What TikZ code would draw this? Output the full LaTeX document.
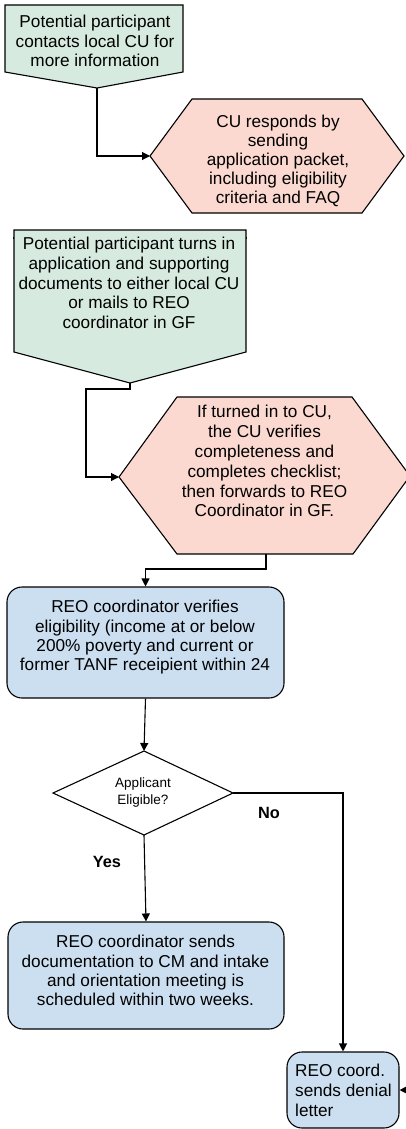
\documentclass[tikz,border=0pt]{standalone}
\usepackage{fontspec}
\setmainfont{Liberation Sans}
\usetikzlibrary{arrows.meta}
\definecolor{boxgreen}{HTML}{D6EADF}
\definecolor{boxpink}{HTML}{FBD9D0}
\definecolor{boxblue}{HTML}{CCDFF1}
\newcommand{\asc}{\rule{0pt}{12.4pt}}
\begin{document}
\begin{tikzpicture}[x=1pt,y=-1pt,
  outl/.style={draw=black, line width=1.1pt, line join=miter},
  conn/.style={draw=black, line width=1.1pt, -{Triangle[length=8pt,width=8pt]}},
  txt/.style={inner sep=0pt, anchor=north, align=center, text=black, font={\fontsize{17.2}{#1}\selectfont}},
  txt/.default=19.2,
  rbox/.style={outl, fill=boxblue, rounded corners=15pt, inner sep=0pt}]
\useasboundingbox (0,0) rectangle (406,1129);
\clip (0,0) rectangle (406,1129);

% Box 1 (pentagon, green)
\coordinate (b1tl) at (5,5);
\coordinate (b1tr) at (183,5);
\coordinate (b1r) at (183,72);
\coordinate (b1tip) at (97,88);
\coordinate (b1l) at (5,72);
\draw[outl, fill=boxgreen] (b1tl) -- (b1tr) -- (b1r) -- (b1tip) -- (b1l) -- cycle;
\node[txt=19.2] (t1) at (95,15.3) {\asc Potential participant\\contacts local CU for\\more information};

% Hexagon 1 (pink)
\coordinate (h1left) at (150,156);
\coordinate (h1right) at (404,156);
\draw[outl, fill=boxpink] (h1left) -- (192,99) -- (362,99) -- (h1right) -- (362,213) -- (192,213) -- cycle;
\node[txt=18.9] (t2) at (278,115.3) {\asc CU responds by\\sending\\application packet,\\including eligibility\\criteria and FAQ};

\draw[conn] (b1tip) |- (h1left);

% stray line
\coordinate (s1) at (13,238);
\coordinate (s2) at (247,238);
\draw[outl] (s1) -- (s2);

% Box 2 (pentagon, green)
\coordinate (b2tip) at (130,383);
\draw[outl, fill=boxgreen] (14,230) -- (246,230) -- (246,352) -- (b2tip) -- (14,352) -- cycle;
\node[txt=19.8] (t3) at (129,236.9) {\asc Potential participant turns in\\application and supporting\\documents to either local CU\\or mails to REO\\coordinator in GF};

% Hexagon 2 (pink)
\coordinate (h2left) at (119,477);
\coordinate (h2bot) at (266,554);
\draw[outl, fill=boxpink] (h2left) -- (177,397) -- (352,397) -- (410,476) -- (353,554) -- (177,554) -- cycle;
\node[txt=19.8] (t4) at (264.5,405.3) {\asc If turned in to CU,\\the CU verifies\\completeness and\\completes checklist;\\then forwards to REO\\Coordinator in GF.};

\draw[conn] (b2tip) -- ++(0,6) -- ++(-44,0) |- (h2left);

% Box 3
\node[rbox, minimum width=277pt, minimum height=111pt] (box3) at (145.5,642.5) {};
\node[txt=19.1] (t5) at (145,600.3) {\asc REO coordinator verifies\\eligibility (income at or below\\200\% poverty and current or\\former TANF receipient within 24};

\draw[conn] (h2bot) -- ++(0,15) -| (box3.north);

% Diamond
\coordinate (dtop) at (144,751);
\coordinate (dleft) at (53,793);
\coordinate (dright) at (233,793);
\coordinate (dbot) at (144,835);
\draw[outl, fill=white] (dtop) -- (dright) -- (dbot) -- (dleft) -- cycle;
\node[inner sep=0pt, anchor=north, align=center, font={\fontsize{13.5}{17.7}\selectfont}] (t6) at (143,777.3) {\rule{0pt}{9.7pt}Applicant\\Eligible?};

\draw[conn] (box3.south) -- (dtop);

\node[inner sep=0pt, font=\fontsize{16.3}{18}\selectfont\bfseries] (no) at (269,813) {No};
\node[inner sep=0pt, font=\fontsize{16.3}{18}\selectfont\bfseries] (yes) at (107,862) {Yes};

% Box 4
\node[rbox, minimum width=276pt, minimum height=107pt] (box4) at (146,975.5) {};
\node[txt=19.2] (t7) at (145.5,935.3) {\asc REO coordinator sends\\documentation to CM and intake\\and orientation meeting is\\scheduled within two weeks.};

\draw[conn] (dbot) -- (box4.north);

% Box 5
\node[rbox, minimum width=112pt, minimum height=76pt] (box5) at (343,1090) {};
\node[txt=20, anchor=north west, align=left] (t8) at (295,1063.6) {\asc REO coord.\\sends denial\\letter};

\draw[conn] (dright) -| (box5.north);

\coordinate (stray) at (408,1090);
\draw[conn] (stray) -- (box5.east);
\end{tikzpicture}
\end{document}
